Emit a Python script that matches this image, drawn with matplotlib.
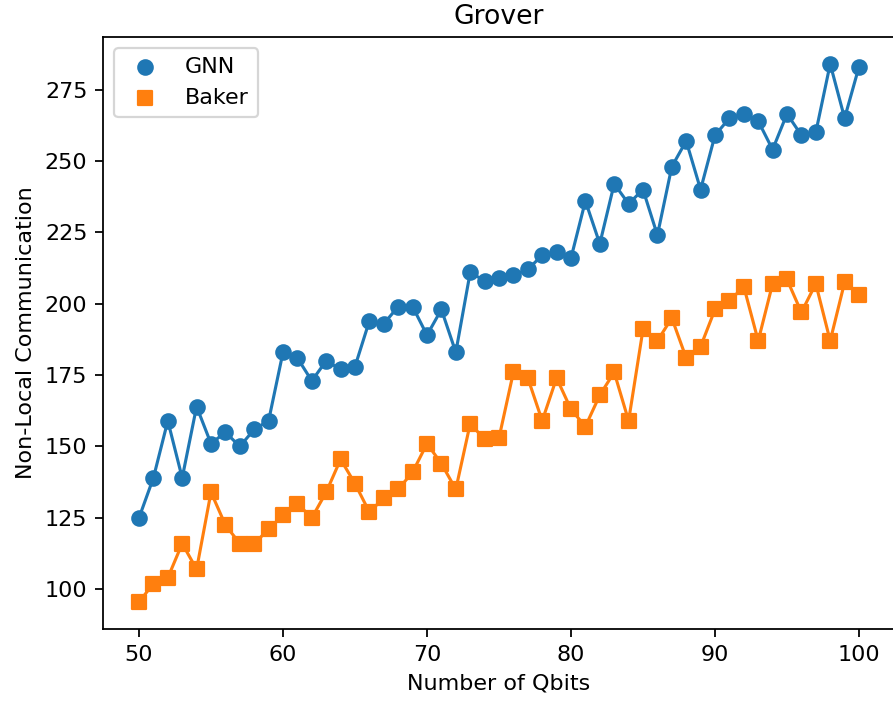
import matplotlib
matplotlib.use("Agg")
import matplotlib.pyplot as plt

qbits = list(range(50, 101))
gnn = [125, 139, 159, 139, 164, 151, 155, 150, 156, 159,
       183, 181, 173, 180, 177, 178, 194, 193, 199, 199,
       189, 198, 183, 211, 208, 209, 210, 212, 217, 218,
       216, 236, 221, 242, 235, 240, 224, 248, 257, 240,
       259, 265, 266.5, 264, 254, 266.5, 259, 260, 284, 265,
       283]
baker = [95.5, 102, 104, 116, 107, 134, 122.5, 116, 116, 121,
         126, 130, 125, 134, 145.5, 137, 127, 132, 135, 141,
         151, 144, 135, 158, 152.5, 153, 176, 174, 159, 174,
         163, 157, 168, 176, 159, 191, 187, 195, 181, 185,
         198, 201, 206, 187, 207, 208.5, 197, 207, 187, 207.5,
         203]

DPI = 160
fig = plt.figure(figsize=(893/DPI, 702/DPI), dpi=DPI)
ax = fig.add_axes([103/893, 1 - 629/702, 792/893, (629 - 37)/702])

ax.plot(qbits, gnn, color='#1f77b4', linewidth=1.4)
ax.scatter(qbits, gnn, color='#1f77b4', marker='o', s=42, label='GNN', zorder=3)
ax.plot(qbits, baker, color='#ff7f0e', linewidth=1.4)
ax.scatter(qbits, baker, color='#ff7f0e', marker='s', s=42, label='Baker', zorder=3)

ax.set_title('Grover')
ax.set_xlabel('Number of Qbits')
ax.set_ylabel('Non-Local Communication')
ax.legend(loc='upper left')

fig.savefig('out.png', dpi=DPI)
